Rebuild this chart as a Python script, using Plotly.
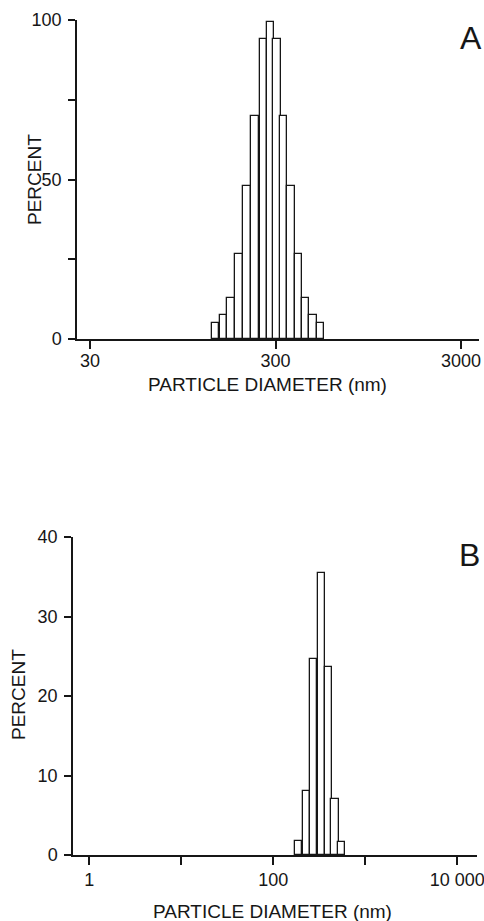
import numpy as np
import plotly.graph_objects as go

# panel A: particle size distribution (bin centres in nm, percent)
A_DIAMETER_NM = [142.5, 157, 173, 191, 211, 233, 258, 282, 306, 332, 364, 399, 435, 478, 525]
A_PERCENT = [5, 7.5, 13, 26.5, 48, 70, 94, 99.5, 94, 70, 48, 26.5, 13, 7.5, 5]
A_TICKS = [30, 300, 3000]
A_TICKTEXT = ["30", "300", "3000"]

# panel B
B_DIAMETER_NM = [189, 228, 276, 332, 395, 469, 553]
B_PERCENT = [1.7, 8.1, 24.7, 35.5, 23.7, 7.0, 1.6]
B_TICKS = [1, 10, 100, 1000, 10000]
B_TICKTEXT = ["1", "", "100", "", "10 000"]

W, H = 484, 921
INK = "#161616"
FONT = "Liberation Sans"


def px_x(p):
    return p / W


def px_y(p):
    return 1 - p / H


def log_bins(centres):
    x = np.log10(centres)
    width = (x[-1] - x[0]) / (len(x) - 1)
    return x, width


fig = go.Figure()

for diam, pct, xa, ya in [
    (A_DIAMETER_NM, A_PERCENT, "x", "y"),
    (B_DIAMETER_NM, B_PERCENT, "x2", "y2"),
]:
    x, w = log_bins(diam)
    fig.add_trace(
        go.Bar(
            x=x,
            y=pct,
            width=w,
            marker=dict(color="white", line=dict(color=INK, width=1.3)),
            xaxis=xa,
            yaxis=ya,
            showlegend=False,
        )
    )

axis_style = dict(
    showline=True,
    linecolor=INK,
    linewidth=1.5,
    ticks="outside",
    tickcolor=INK,
    tickwidth=1.5,
    showgrid=False,
    zeroline=False,
    automargin=False,
    ticklabeloverflow="allow",
    tickfont=dict(family=FONT, size=18, color=INK),
    fixedrange=True,
)

fig.update_layout(
    width=W,
    height=H,
    autosize=False,
    margin=dict(l=0, r=0, t=0, b=0, pad=0),
    paper_bgcolor="white",
    plot_bgcolor="white",
    bargap=0,
    xaxis=dict(
        axis_style,
        domain=[px_x(77), px_x(479)],
        range=[1.407, 3.574],
        tickvals=np.log10(A_TICKS),
        ticktext=A_TICKTEXT,
        ticklen=8,
        ticklabelstandoff=-3,
        anchor="y",
    ),
    yaxis=dict(
        axis_style,
        domain=[px_y(339), px_y(20)],
        range=[0, 100],
        tickvals=[0, 25, 50, 75, 100],
        ticktext=["0", "", "50", "", "100"],
        ticklen=7,
        ticklabelstandoff=3,
        anchor="x",
    ),
    xaxis2=dict(
        axis_style,
        domain=[px_x(73), px_x(477)],
        range=[-0.177, 4.214],
        tickvals=np.log10(B_TICKS),
        ticktext=B_TICKTEXT,
        ticklen=8,
        anchor="y2",
    ),
    yaxis2=dict(
        axis_style,
        domain=[px_y(855), px_y(537)],
        range=[0, 40],
        tickvals=[0, 10, 20, 30, 40],
        ticklen=7,
        ticklabelstandoff=3,
        anchor="x2",
    ),
)

title_font = dict(family=FONT, size=19, color=INK)
letter_font = dict(family=FONT, size=32, color=INK)
notes = [
    dict(text="PERCENT", x=px_x(35), y=px_y(180), textangle=-90, font=title_font),
    dict(text="PERCENT", x=px_x(18), y=px_y(695), textangle=-90, font=title_font),
    dict(text="PARTICLE DIAMETER (nm)", x=px_x(267), y=px_y(385), font=title_font),
    dict(text="PARTICLE DIAMETER (nm)", x=px_x(272), y=px_y(911), font=title_font),
    dict(text="A", x=px_x(471), y=px_y(38), font=letter_font),
    dict(text="B", x=px_x(469), y=px_y(555), font=letter_font),
]
for n in notes:
    fig.add_annotation(
        xref="paper", yref="paper", xanchor="center", yanchor="middle",
        showarrow=False, **n
    )

# the page body keeps its default 8px margin otherwise
fig.write_html(
    "out.html",
    config={"displayModeBar": False},
    post_script="document.body.style.margin='0';",
)
